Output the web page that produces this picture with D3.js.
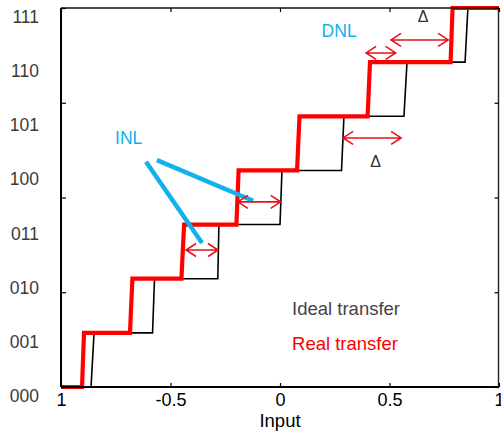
<!DOCTYPE html>
<html>
<head>
<meta charset="utf-8">
<script src="https://cdn.jsdelivr.net/npm/d3@7"></script>
<style>
  html, body { margin: 0; padding: 0; background: #fff; }
  svg { display: block; font-family: "Liberation Sans", Arial, sans-serif; }
</style>
</head>
<body>
<svg id="chart" width="501" height="433"></svg>
<script>
// Output codes (3-bit) for each quantisation level
const codes = ["000", "001", "010", "011", "100", "101", "110", "111"];

// Ideal transfer: input where each step starts rising and where it reaches the next level
const idealRiseStart = [-0.863, -0.582, -0.284, 0.000, 0.281, 0.566, 0.845];
const idealRiseEnd   = [-0.849, -0.573, -0.279, 0.009, 0.292, 0.580, 0.858];

// Real transfer: same, for the non-ideal converter
const realRiseStart = [-0.904, -0.685, -0.450, -0.199, 0.078, 0.400, 0.779];
const realRiseEnd   = [-0.895, -0.674, -0.438, -0.189, 0.089, 0.411, 0.788];

// Input axis ticks and their labels
const xTicks = [-1, -0.5, 0, 0.5, 1];
const xTickLabels = ["1", "-0.5", "0", "0.5", "1"];
// Output axis tick positions (in code units)
const yTicks = [0, 1.75, 3.5, 5.25, 7];

// Double-headed error arrows: [x0, x1, level]
const errorArrows = [
  [-0.429, -0.283, 2.53],
  [-0.192, 0.003, 3.42],
  [0.393, 0.528, 6.17],
  [0.507, 0.768, 6.41],
  [0.288, 0.553, 4.60]
];

// INL pointer lines: [x0, y0, x1, y1]
const inlPointers = [
  [-0.612, 4.16, -0.356, 2.66],
  [-0.562, 4.19, -0.123, 3.44]
];

// Annotations: [text, x, y, colour, size, anchor]
const annotations = [
  ["INL", -0.753, 4.49, "#12b0ec", 17.5, "start"],
  ["DNL", 0.190, 6.46, "#12b0ec", 17.5, "start"],
  ["\u0394", 0.653, 6.74, "#333", 16, "middle"],
  ["\u0394", 0.437, 4.07, "#333", 16, "middle"],
  ["Ideal transfer", 0.055, 1.33, "#444", 18.5, "start"],
  ["Real transfer", 0.055, 0.68, "#ff0000", 18.5, "start"]
];

const svg = d3.select("#chart");
const plotLeft = 61, plotRight = 499, plotTop = 8, plotBottom = 387;

const x = d3.scaleLinear().domain([-1, 1]).range([plotLeft, plotRight]);
const y = d3.scaleLinear().domain([0, 7]).range([plotBottom, plotTop]);

// Build the staircase vertices from rise points
function staircase(starts, ends) {
  const pts = [[-1, 0]];
  starts.forEach((s, k) => {
    pts.push([s, k]);
    pts.push([ends[k], k + 1]);
  });
  pts.push([1, 7]);
  return pts;
}

const line = d3.line().x(d => x(d[0])).y(d => y(d[1]));

// Ideal transfer (thin black)
svg.append("path")
  .attr("d", line(staircase(idealRiseStart, idealRiseEnd)))
  .attr("fill", "none")
  .attr("stroke", "#000")
  .attr("stroke-width", 1.6);

// Real transfer (thick red)
svg.append("path")
  .attr("d", line(staircase(realRiseStart, realRiseEnd)))
  .attr("fill", "none")
  .attr("stroke", "#ff0000")
  .attr("stroke-width", 4.2)
  .attr("stroke-linejoin", "miter");

// Frame
const frame = svg.append("g");
frame.append("line").attr("x1", plotLeft).attr("x2", plotLeft).attr("y1", plotTop).attr("y2", plotBottom)
  .attr("stroke", "#000").attr("stroke-width", 2);
frame.append("line").attr("x1", plotLeft).attr("x2", plotRight).attr("y1", plotBottom).attr("y2", plotBottom)
  .attr("stroke", "#000").attr("stroke-width", 2);
frame.append("line").attr("x1", plotLeft).attr("x2", plotRight).attr("y1", plotTop).attr("y2", plotTop)
  .attr("stroke", "#111").attr("stroke-width", 1.6);
frame.append("line").attr("x1", plotRight - 0.5).attr("x2", plotRight - 0.5).attr("y1", plotTop).attr("y2", plotBottom)
  .attr("stroke", "#222").attr("stroke-width", 1.4);

// Bottom axis (inward ticks)
const xAxis = svg.append("g").attr("transform", `translate(0,${plotBottom})`)
  .call(d3.axisBottom(x).tickValues(xTicks).tickSizeInner(-4).tickSizeOuter(0)
    .tickFormat((d, i) => xTickLabels[i]));
xAxis.select(".domain").remove();
xAxis.selectAll(".tick line").attr("stroke", "#000").attr("stroke-width", 1.2);
xAxis.selectAll(".tick text").attr("font-size", 18).attr("fill", "#000")
  .attr("font-family", "Liberation Sans, Arial, sans-serif").attr("dy", "0.71em").attr("y", 6.5);

// Top axis (inward ticks, no labels)
const xTop = svg.append("g").attr("transform", `translate(0,${plotTop})`)
  .call(d3.axisTop(x).tickValues(xTicks).tickSizeInner(-4).tickSizeOuter(0).tickFormat(""));
xTop.select(".domain").remove();
xTop.selectAll(".tick line").attr("stroke", "#000").attr("stroke-width", 1.2);

// Left and right axes (inward ticks)
const yLeft = svg.append("g").attr("transform", `translate(${plotLeft},0)`)
  .call(d3.axisLeft(y).tickValues(yTicks).tickSizeInner(-5).tickSizeOuter(0).tickFormat(""));
yLeft.select(".domain").remove();
yLeft.selectAll(".tick line").attr("stroke", "#000").attr("stroke-width", 1.2);

const yRight = svg.append("g").attr("transform", `translate(${plotRight - 0.5},0)`)
  .call(d3.axisRight(y).tickValues(yTicks).tickSizeInner(-4).tickSizeOuter(0).tickFormat(""));
yRight.select(".domain").remove();
yRight.selectAll(".tick line").attr("stroke", "#000").attr("stroke-width", 1.2);

// Output code labels
svg.append("g").selectAll("text").data(codes).join("text")
  .attr("x", 39)
  .attr("y", (d, i) => y(i) + 15)
  .attr("text-anchor", "end")
  .attr("font-size", 17.5)
  .attr("fill", "#3a3a3a")
  .text(d => d);

// Axis title
svg.append("text")
  .attr("x", x(0))
  .attr("y", 427)
  .attr("text-anchor", "middle")
  .attr("font-size", 18.5)
  .attr("fill", "#000")
  .text("Input");

// INL pointer lines
svg.append("g").selectAll("line").data(inlPointers).join("line")
  .attr("x1", d => x(d[0])).attr("y1", d => y(d[1]))
  .attr("x2", d => x(d[2])).attr("y2", d => y(d[3]))
  .attr("stroke", "#12b0ec")
  .attr("stroke-width", 4.5);

// Double-headed arrows
const head = 10, half = 6.5;
svg.append("g").selectAll("path").data(errorArrows).join("path")
  .attr("d", d => {
    const a = x(d[0]), b = x(d[1]), yy = y(d[2]);
    return `M${a},${yy}L${b},${yy}` +
      `M${a + head},${yy - half}L${a},${yy}L${a + head},${yy + half}` +
      `M${b - head},${yy - half}L${b},${yy}L${b - head},${yy + half}`;
  })
  .attr("fill", "none")
  .attr("stroke", "#e3141e")
  .attr("stroke-width", 1.6);

// Labels and legend text
svg.append("g").selectAll("text").data(annotations).join("text")
  .attr("x", d => x(d[1]))
  .attr("y", d => y(d[2]))
  .attr("fill", d => d[3])
  .attr("font-size", d => d[4])
  .attr("text-anchor", d => d[5])
  .text(d => d[0]);
</script>
</body>
</html>
